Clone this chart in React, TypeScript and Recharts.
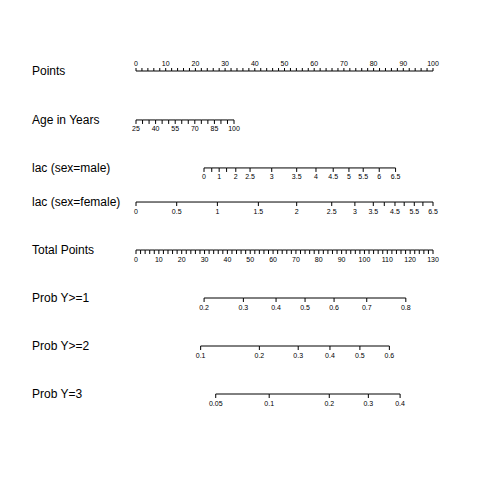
import { ComposedChart, Line, XAxis, YAxis } from 'recharts';

// Nomogram rows, values.
const rowNames = [
  'Points',
  'Age in Years',
  'lac (sex=male)',
  'lac (sex=female)',
  'Total Points',
  'Prob Y>=1',
  'Prob Y>=2',
  'Prob Y=3',
];

const pointsTicks = [
  0, 2, 4, 6, 8, 10, 12, 14, 16, 18, 20, 22, 24, 26, 28, 30, 32, 34, 36, 38, 40, 42, 44, 46, 48, 50,
  52, 54, 56, 58, 60, 62, 64, 66, 68, 70, 72, 74, 76, 78, 80, 82, 84, 86, 88, 90, 92, 94, 96, 98, 100,
];
const pointsLabels = [0, 10, 20, 30, 40, 50, 60, 70, 80, 90, 100];

const ageValues = [25, 30, 35, 40, 45, 50, 55, 60, 65, 70, 75, 80, 85, 90, 95, 100];
const agePoints = [0, 2.2, 4.4, 6.6, 8.8, 11, 13.2, 15.4, 17.6, 19.8, 22, 24.2, 26.4, 28.6, 30.8, 33];
const ageLabels = [25, 40, 55, 70, 85, 100];

const lacValues = [0, 0.5, 1, 1.5, 2, 2.5, 3, 3.5, 4, 4.5, 5, 5.5, 6, 6.5];
const lacMalePoints = [22.9, 25.5, 28.0, 30.5, 33.6, 38.4, 45.7, 54.1, 60.6, 66.4, 71.7, 76.5, 81.9, 87.4];
const lacMaleLabels = [0, 1, 2, 2.5, 3, 3.5, 4, 4.5, 5, 5.5, 6, 6.5];
const lacFemalePoints = [0, 13.7, 27.4, 41.2, 54.1, 65.9, 73.7, 79.9, 83.6, 87.2, 90.3, 93.7, 96.6, 100];
const lacFemaleLabels = [0, 0.5, 1, 1.5, 2, 2.5, 3, 3.5, 4.5, 5.5, 6.5];

const totalTicks = [
  0, 2, 4, 6, 8, 10, 12, 14, 16, 18, 20, 22, 24, 26, 28, 30, 32, 34, 36, 38, 40, 42, 44, 46, 48, 50,
  52, 54, 56, 58, 60, 62, 64, 66, 68, 70, 72, 74, 76, 78, 80, 82, 84, 86, 88, 90, 92, 94, 96, 98, 100,
  102, 104, 106, 108, 110, 112, 114, 116, 118, 120, 122, 124, 126, 128, 130,
];
const totalLabels = [0, 10, 20, 30, 40, 50, 60, 70, 80, 90, 100, 110, 120, 130];

const prob1Values = [0.2, 0.3, 0.4, 0.5, 0.6, 0.7, 0.8];
const prob1Total = [29.8, 47.0, 61.3, 74.0, 86.7, 101.0, 118.1];
const prob2Values = [0.1, 0.2, 0.3, 0.4, 0.5, 0.6];
const prob2Total = [28.3, 54.0, 71.0, 84.9, 98.0, 110.9];
const prob3Values = [0.05, 0.1, 0.2, 0.3, 0.4];
const prob3Total = [34.9, 58.3, 84.6, 101.7, 115.6];

// layout: vertical slot of each row (in row units)
const rowY = [0, 1.02, 2.02, 2.73, 3.73, 4.73, 5.73, 6.73];

const FONT = '"Liberation Sans", Arial, Helvetica, sans-serif';
const LABEL_X = 32;

type Pt = { x: number; y: number; label: string; up: boolean };

function buildRow(row: number, xs: number[], values: number[], labels: number[], up = false): Pt[] {
  return xs.map((x, i) => ({
    x,
    y: rowY[row],
    label: labels.includes(values[i]) ? String(values[i]) : '',
    up,
  }));
}

const rows: { axis: string; data: Pt[] }[] = [
  { axis: 'pts', data: buildRow(0, pointsTicks, pointsTicks, pointsLabels, true) },
  { axis: 'pts', data: buildRow(1, agePoints, ageValues, ageLabels) },
  { axis: 'pts', data: buildRow(2, lacMalePoints, lacValues, lacMaleLabels) },
  { axis: 'pts', data: buildRow(3, lacFemalePoints, lacValues, lacFemaleLabels) },
  { axis: 'tot', data: buildRow(4, totalTicks, totalTicks, totalLabels) },
  { axis: 'tot', data: buildRow(5, prob1Total, prob1Values, prob1Values) },
  { axis: 'tot', data: buildRow(6, prob2Total, prob2Values, prob2Values) },
  { axis: 'tot', data: buildRow(7, prob3Total, prob3Values, prob3Values) },
];

const TickDot = (props: any) => {
  const { cx, cy, payload, index } = props;
  if (cx == null || cy == null) return <g key={index} />;
  const up = payload.up;
  return (
    <g key={index}>
      <line x1={cx} y1={cy} x2={cx} y2={up ? cy - 3 : cy + 4} stroke="#000" strokeWidth={1} />
      {payload.label && (
        <text
          x={cx}
          y={up ? cy - 5.5 : cy + 11.5}
          textAnchor="middle"
          fontSize={7}
          fontFamily={FONT}
          fill="#000"
        >
          {payload.label}
        </text>
      )}
    </g>
  );
};

const RowLabel = (props: any) => {
  const { y, payload } = props;
  const idx = rowY.indexOf(payload.value);
  return (
    <text x={LABEL_X} y={y} dy={4} textAnchor="start" fontSize={12} fontFamily={FONT} fill="#000">
      {rowNames[idx]}
    </text>
  );
};

export default function App() {
  return (
    <div style={{ position: 'absolute', left: 0, top: 0, background: '#fff' }}>
      <ComposedChart width={480} height={480} margin={{ top: 71, right: 47, bottom: 86, left: 32 }}>
        <XAxis xAxisId="pts" type="number" dataKey="x" domain={[0, 100]} hide />
        <XAxis xAxisId="tot" type="number" dataKey="x" domain={[0, 130]} hide />
        <YAxis
          type="number"
          dataKey="y"
          domain={[0, rowY[rowY.length - 1]]}
          reversed
          width={104}
          ticks={rowY}
          interval={0}
          axisLine={false}
          tickLine={false}
          tick={<RowLabel />}
        />
        {rows.map((r, i) => (
          <Line
            key={i}
            xAxisId={r.axis}
            data={r.data}
            dataKey="y"
            stroke="#000"
            strokeWidth={1}
            dot={TickDot}
            activeDot={false}
            isAnimationActive={false}
          />
        ))}
      </ComposedChart>
    </div>
  );
}
